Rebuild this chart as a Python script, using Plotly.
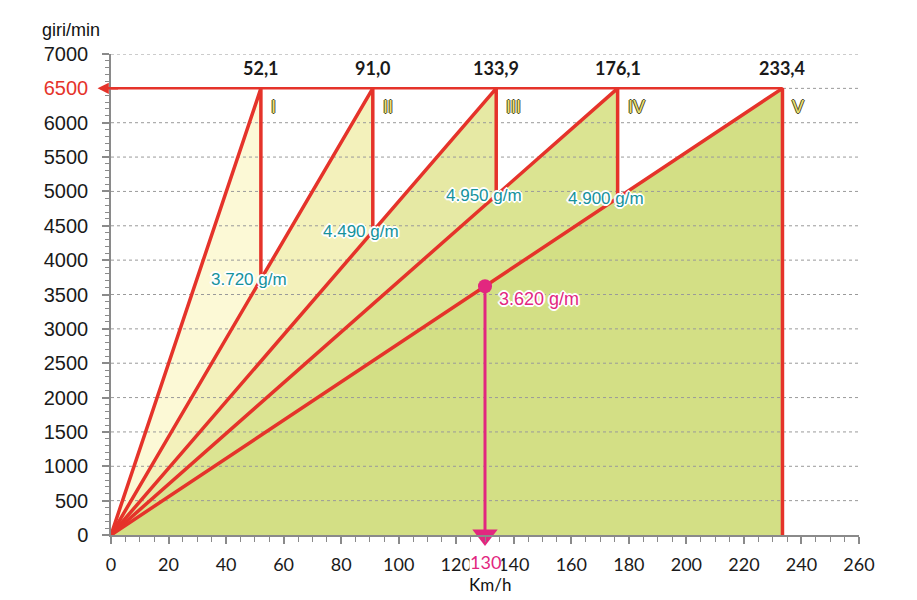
import plotly.graph_objects as go

# ---------------- data ----------------
gears = ["I", "II", "III", "IV", "V"]
top_speed = [52.1, 91.0, 133.9, 176.1, 233.4]          # km/h reached at max rpm
max_rpm = 6500
shift_labels = ["3.720 g/m", "4.490 g/m", "4.950 g/m", "4.900 g/m"]
highlight_speed = 130
highlight_rpm = 3620
highlight_label = "3.620 g/m"
y_ticks = list(range(0, 7001, 500))
x_ticks = list(range(0, 261, 20))
x_max = 260
y_max = 7000

# ---------------- style ----------------
fill_colors = ["#fcf9d6", "#f3f1bb", "#e6e9a4", "#dbe492", "#d3df85"]
RED = "#e5332a"
MAG = "#e2277f"
TEAL = "#16929c"
GRID = "#9a9a9a"
AXIS = "#8a8a8a"

# rpm on the next gear at the shift speed (geometry of the rays)
drop_rpm = [max_rpm * top_speed[i] / top_speed[i + 1] for i in range(len(top_speed) - 1)] + [0]

fig = go.Figure()

# filled zones (largest first)
for i in reversed(range(len(gears))):
    v = top_speed[i]
    fig.add_trace(go.Scatter(
        x=[0, v, v, 0], y=[0, max_rpm, drop_rpm[i], 0],
        mode="lines", fill="toself", fillcolor=fill_colors[i],
        line=dict(width=0), hoverinfo="skip", showlegend=False))

# dashed grid lines above the fills
gx, gy = [], []
for t in y_ticks[1:]:
    gx += [0, x_max, None]
    gy += [t, t, None]
fig.add_trace(go.Scatter(x=gx, y=gy, mode="lines",
                         line=dict(color=GRID, width=1, dash="3px,3px"),
                         hoverinfo="skip", showlegend=False))

# red rays and verticals
for i, v in enumerate(top_speed):
    fig.add_trace(go.Scatter(x=[0, v, v], y=[0, max_rpm, drop_rpm[i]], mode="lines",
                             line=dict(color=RED, width=3.5), hoverinfo="skip",
                             showlegend=False))
# red horizontal at max rpm
fig.add_trace(go.Scatter(x=[0, max(top_speed)], y=[max_rpm, max_rpm], mode="lines",
                         line=dict(color=RED, width=2.5), hoverinfo="skip", showlegend=False))

# magenta highlight
fig.add_trace(go.Scatter(x=[highlight_speed, highlight_speed], y=[highlight_rpm, 0],
                         mode="lines", line=dict(color=MAG, width=3),
                         hoverinfo="skip", showlegend=False))
fig.add_trace(go.Scatter(x=[highlight_speed], y=[highlight_rpm], mode="markers",
                         marker=dict(color=MAG, size=14), hoverinfo="skip",
                         showlegend=False, cliponaxis=False))
fig.add_trace(go.Scatter(x=[highlight_speed], y=[0], mode="markers",
                         marker=dict(color=MAG, size=22, symbol="triangle-down"),
                         hoverinfo="skip", showlegend=False, cliponaxis=False))

ann = []
halo_w = ("1px 1px 0 #fff, -1px -1px 0 #fff, 1px -1px 0 #fff, -1px 1px 0 #fff, "
          "2px 0 0 #fff, -2px 0 0 #fff, 0 2px 0 #fff, 0 -2px 0 #fff, 0 0 3px #fff")
outline = "1px 0 0 #4d4a2a, -1px 0 0 #4d4a2a, 0 1px 0 #4d4a2a, 0 -1px 0 #4d4a2a"

for i, v in enumerate(top_speed):
    ann.append(dict(x=v, y=max_rpm, xref="x", yref="y", showarrow=False,
                    text=f"{v:.1f}".replace(".", ","), xanchor="center", yanchor="bottom",
                    yshift=7, font=dict(family="Lato", size=18, color="#1a1a1a", weight="bold")))
    ann.append(dict(x=v, y=max_rpm, xref="x", yref="y", showarrow=False,
                    text=gears[i], xanchor="left", yanchor="top", xshift=8, yshift=-7,
                    font=dict(family="Liberation Sans", size=18, color="#e9e070",
                              shadow=outline)))

for i, lab in enumerate(shift_labels):
    ann.append(dict(x=top_speed[i], y=drop_rpm[i], xref="x", yref="y", showarrow=False,
                    text=lab, xanchor="center", yanchor="middle", xshift=-12, yshift=0,
                    font=dict(family="Liberation Sans", size=17, color=TEAL, shadow=halo_w)))

ann.append(dict(x=highlight_speed, y=highlight_rpm, xref="x", yref="y", showarrow=False,
                text=highlight_label, xanchor="left", yanchor="middle", xshift=12, yshift=-13,
                font=dict(family="Liberation Sans", size=18, color=MAG, shadow=halo_w)))

ann.append(dict(x=highlight_speed, y=0, xref="x", yref="paper", showarrow=False,
                text=str(highlight_speed), xanchor="center", yanchor="middle", yshift=-27,
                bgcolor="white", borderpad=0,
                font=dict(family="Lato", size=18, color=MAG)))

ann.append(dict(x=0, y=1, xref="paper", yref="paper", showarrow=False, text="giri/min",
                xanchor="center", yanchor="middle", xshift=-40, yshift=24,
                font=dict(family="Liberation Sans", size=18, color="#111")))
ann.append(dict(x=0.5, y=0, xref="paper", yref="paper", showarrow=False, text="Km/h",
                xanchor="center", yanchor="middle", xshift=5, yshift=-49,
                font=dict(family="Lato", size=17, color="#111")))

# arrow head of the max rpm line pointing at the axis label
ann.append(dict(x=-0.018, y=max_rpm, xref="paper", yref="y", ax=22, ay=0,
                axref="pixel", ayref="pixel", showarrow=True, text="",
                arrowhead=2, arrowsize=0.9, arrowwidth=2.5, arrowcolor=RED, standoff=0))

y_text = [f"<span style='color:{RED}'>{t}</span>" if t == max_rpm else str(t) for t in y_ticks]

fig.update_layout(
    width=917, height=600,
    margin=dict(l=111, r=58, t=54, b=65),
    paper_bgcolor="white", plot_bgcolor="white",
    showlegend=False,
    annotations=ann,
    xaxis=dict(range=[0, x_max], tickmode="array", tickvals=x_ticks,
               ticktext=[str(t) for t in x_ticks],
               showgrid=False, zeroline=False, showline=True, linecolor=AXIS, linewidth=1.5,
               ticks="outside", ticklen=7, tickcolor=AXIS, tickwidth=1.5,
               ticklabelstandoff=6,
               minor=dict(tickmode="linear", tick0=0, dtick=5, ticks="outside", ticklen=5,
                          tickcolor=AXIS, tickwidth=1),
               tickfont=dict(family="Lato", size=18, color="#1a1a1a")),
    yaxis=dict(range=[0, y_max], tickmode="array", tickvals=y_ticks, ticktext=y_text,
               showgrid=False, zeroline=False, showline=True, linecolor=AXIS, linewidth=1.5,
               ticks="outside", ticklen=7, tickcolor=AXIS, tickwidth=1.5,
               ticklabelstandoff=10,
               minor=dict(tickmode="linear", tick0=0, dtick=100, ticks="outside", ticklen=4,
                          tickcolor=AXIS, tickwidth=1),
               tickfont=dict(family="Liberation Sans", size=20, color="#1a1a1a")),
)

fig.write_html("out.html")
